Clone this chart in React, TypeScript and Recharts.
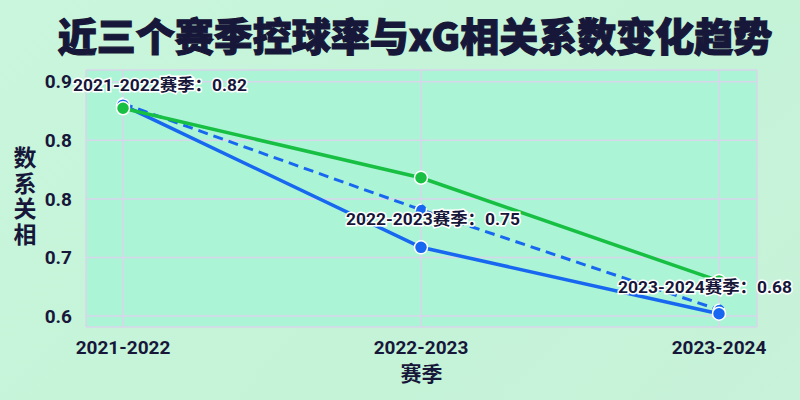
import React from 'react'
import { LineChart, Line, XAxis, YAxis, CartesianGrid, LabelList } from 'recharts'

const seasons = ['2021-2022', '2022-2023', '2023-2024']
// green solid line
const possessionSeries = [0.866, 0.777, 0.645]
// blue solid line
const xgSeries = [0.87, 0.688, 0.603]
// blue dashed line
const trendSeries = [0.872, 0.736, 0.608]
// numbers written in the point labels
const labelValues = [0.82, 0.75, 0.68]
const yTicks = [0.6, 0.675, 0.75, 0.825, 0.9]

const data = seasons.map((season, i) => ({
  season,
  possession: possessionSeries[i],
  xg: xgSeries[i],
  trend: trendSeries[i]
}))

const INK = '#17173a'
const FONT = "Roboto, 'Noto Sans CJK SC', sans-serif"
const GREEN = '#17bf43'
const BLUE = '#1767f0'

// label placement relative to each point of the dashed line
const labelShift = [
  { dx: 37, dy: -19 },
  { dx: 12, dy: 9 },
  { dx: -14, dy: -23 }
]

const renderPointLabel = (props: any) => {
  const { index } = props
  const x = props.x ?? props.viewBox?.x
  const y = props.y ?? props.viewBox?.y
  const shift = labelShift[index] || { dx: 0, dy: 0 }
  return (
    <text
      x={x + shift.dx}
      y={y + shift.dy}
      textAnchor="middle"
      dominantBaseline="central"
      fill={INK}
      stroke="#ffffff"
      strokeWidth={3}
      paintOrder="stroke"
      fontSize={17.4}
      fontWeight={700}
      fontFamily={FONT}
    >
      {`${seasons[index]}赛季：${labelValues[index].toFixed(2)}`}
    </text>
  )
}

const renderYLabel = (props: any) => {
  const vb = props.viewBox || { x: 26, y: 70, height: 257 }
  const cx = vb.x - 1
  const cy = vb.y + vb.height / 2 - 2
  const chars = ['数', '系', '关', '相']
  const step = 25.5
  return (
    <text
      x={cx}
      y={cy - step * 1.5 + 8}
      textAnchor="middle"
      fill={INK}
      fontSize={23}
      fontWeight={700}
      fontFamily={FONT}
    >
      {chars.map((c, i) => (
        <tspan key={c} x={cx} dy={i === 0 ? 0 : step}>
          {c}
        </tspan>
      ))}
    </text>
  )
}

const App: React.FC = () => {
  return (
    <div
      style={{
        position: 'fixed',
        left: 0,
        top: 0,
        width: 800,
        height: 400,
        background: 'linear-gradient(135deg, #c9f6dc 0%, #c4f3d8 60%, #c8f2d9 100%)',
        fontFamily: FONT
      }}
    >
      <div
        style={{
          position: 'absolute',
          left: 0,
          top: 10,
          width: 830,
          textAlign: 'center',
          fontSize: 39,
          lineHeight: '48px',
          fontWeight: 900,
          color: INK,
          WebkitTextStroke: `1.2px ${INK}`,
          fontFamily: "'Noto Sans CJK SC', sans-serif"
        }}
      >
        近三个赛季控球率与xG相关系数变化趋势
      </div>
      <LineChart
        width={800}
        height={400}
        data={data}
        margin={{ top: 70, right: 43, bottom: 43, left: 26 }}
        style={{ position: 'absolute', left: 0, top: 0 }}
      >
        <CartesianGrid fill="#abf4d5" fillOpacity={1} stroke="#d8d6ea" strokeWidth={1.5} />
        <XAxis
          dataKey="season"
          padding={{ left: 37, right: 38 }}
          axisLine={false}
          tickLine={false}
          tickSize={0}
          tickMargin={14}
          height={30}
          tick={{ fill: INK, fontSize: 19, fontWeight: 700, fontFamily: FONT }}
          label={{
            value: '赛季',
            position: 'bottom',
            offset: 9,
            fill: INK,
            fontSize: 21,
            fontWeight: 700,
            fontFamily: FONT
          }}
        />
        <YAxis
          type="number"
          domain={[0.586, 0.915]}
          ticks={yTicks}
          tickFormatter={(v: number) => v.toFixed(1)}
          axisLine={false}
          tickLine={false}
          tickSize={0}
          tickMargin={14}
          width={60}
          tick={{ fill: INK, fontSize: 19, fontWeight: 700, fontFamily: FONT }}
          label={{ content: renderYLabel }}
        />
        <Line
          dataKey="trend"
          stroke={BLUE}
          strokeWidth={3}
          strokeDasharray="10 6"
          dot={{ r: 5.5, fill: BLUE, stroke: '#ffffff', strokeWidth: 1.5 }}
          isAnimationActive={false}
        />
        <Line
          dataKey="xg"
          stroke={BLUE}
          strokeWidth={3.5}
          dot={{ r: 6.5, fill: BLUE, stroke: '#ffffff', strokeWidth: 1.5 }}
          isAnimationActive={false}
        />
        <Line
          dataKey="possession"
          stroke={GREEN}
          strokeWidth={3.5}
          dot={{ r: 6.5, fill: GREEN, stroke: '#ffffff', strokeWidth: 1.5 }}
          isAnimationActive={false}
        />
        <Line
          dataKey="trend"
          stroke="none"
          dot={false}
          activeDot={false}
          isAnimationActive={false}
        >
          <LabelList dataKey="trend" content={renderPointLabel} />
        </Line>
      </LineChart>
    </div>
  )
}

export default App
